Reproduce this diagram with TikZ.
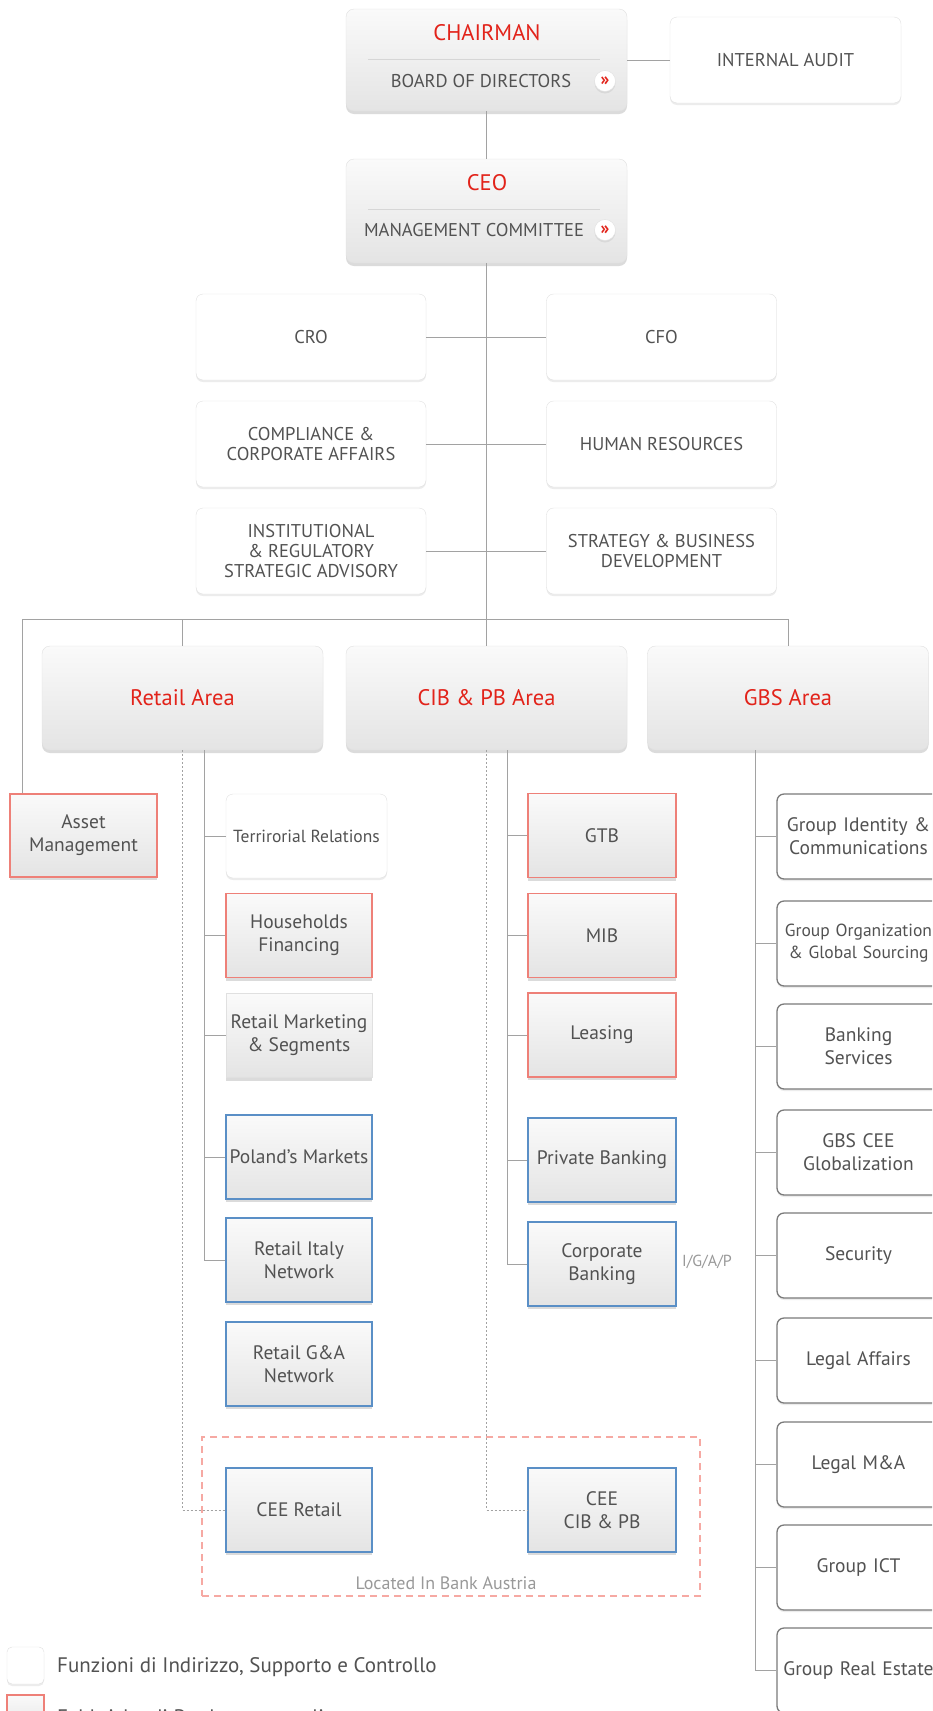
\documentclass[tikz,border=0pt]{standalone}
\usepackage{fontspec}
\setmainfont{PT Sans}
\usetikzlibrary{shadows}
\definecolor{ucred}{HTML}{E2231A}
\definecolor{txt}{HTML}{525252}
\definecolor{lnk}{HTML}{A2A2A2}
\definecolor{redb}{HTML}{EE8078}
\definecolor{blueb}{HTML}{5A8FC6}
\definecolor{gbsb}{HTML}{7A7A7A}
\definecolor{softb}{HTML}{E0E0E0}
\definecolor{dashr}{HTML}{F6A9A3}
\definecolor{gtop}{HTML}{FAFAFA}
\definecolor{gbot}{HTML}{E4E4E4}
\definecolor{sepc}{HTML}{D6D6D6}
\definecolor{lightt}{HTML}{999999}
\begin{document}
\begin{tikzpicture}[x=1pt,y=-1pt,
  orgbox/.style={inner sep=0pt, align=center, text=txt, font=\fontsize{19.5}{23}\selectfont},
  shad/.style={drop shadow={shadow xshift=0pt,shadow yshift=-3pt,opacity=0.25,fill=black!55}},
  lshad/.style={drop shadow={shadow xshift=0pt,shadow yshift=-2pt,opacity=0.12,fill=black!60}},
  headbox/.style={orgbox, rounded corners=8pt, draw=softb, top color=gtop, bottom color=gbot, shad},
  softbox/.style={orgbox, rounded corners=7pt, draw=softb, fill=white, lshad},
  staffbox/.style={softbox, minimum width=230pt, minimum height=86pt, font=\fontsize{18.5}{20}\selectfont},
  areabox/.style={headbox, minimum width=281pt, minimum height=104pt, text=ucred, font=\fontsize{22.5}{26}\selectfont},
  colbox/.style={orgbox, line width=1.5pt, top color=gtop, bottom color=gbot, shad, minimum height=84pt},
  redbox/.style={colbox, draw=redb},
  bluebox/.style={colbox, draw=blueb},
  greybox/.style={colbox, draw=softb, line width=1pt},
  rchild/.style={minimum width=146pt},
  cchild/.style={minimum width=148pt},
  gbsbox/.style={orgbox, rounded corners=7pt, draw=gbsb, line width=1.3pt, fill=white, lshad,
     text width=155pt, inner sep=4pt, minimum height=85pt},
  redtitle/.style={inner sep=0pt, text=ucred, font=\fontsize{22.5}{26}\selectfont},
  captxt/.style={inner sep=0pt, text=txt, font=\fontsize{18.5}{20}\selectfont},
  iconc/.style={circle, draw=softb, fill=white, minimum size=21pt, inner sep=0pt, text=ucred,
     font=\fontsize{18}{18}\selectfont\bfseries, lshad},
  conn/.style={draw=lnk, line width=1pt},
  dotconn/.style={draw=lnk, line width=1pt, dash pattern=on 2pt off 2pt},
  sepline/.style={draw=sepc, line width=0.8pt}
]
\useasboundingbox (0,0) rectangle (932,1711);
\clip (0,0) rectangle (932,1711);
\fill[white] (0,0) rectangle (932,1711);

% top
\node[headbox, minimum width=281pt, minimum height=102pt] (chair) at (486.5,60) {};
\node[softbox, minimum width=231pt, minimum height=86pt, font=\fontsize{18.5}{20}\selectfont] (audit) at (785.5,60) {INTERNAL AUDIT};
\node[headbox, minimum width=281pt, minimum height=104pt] (ceo) at (486.5,211) {};
\draw[sepline] (368,59) -- (600,59);
\draw[sepline] (368,209) -- (600,209);
\node[redtitle] (chairt) at (487,33) {CHAIRMAN};
\node[captxt] (bod) at (481,81) {BOARD OF DIRECTORS};
\node[iconc] (bodi) at (605,81) {»};
\node[redtitle] (ceot) at (487,183) {CEO};
\node[captxt] (mc) at (474,230) {MANAGEMENT COMMITTEE};
\node[iconc] (mci) at (605,230) {»};

% staff
\node[staffbox] (cro) at (311,337) {CRO};
\node[staffbox] (cfo) at (661.5,337) {CFO};
\node[staffbox] (comp) at (311,444) {COMPLIANCE \&\\CORPORATE AFFAIRS};
\node[staffbox] (hr) at (661.5,444) {HUMAN RESOURCES};
\node[staffbox] (inst) at (311,551) {INSTITUTIONAL\\\& REGULATORY\\STRATEGIC ADVISORY};
\node[staffbox] (strat) at (661.5,551) {STRATEGY \& BUSINESS\\DEVELOPMENT};

% areas
\node[areabox] (retail) at (182.5,698) {Retail Area};
\node[areabox] (cib) at (486.5,698) {CIB \& PB Area};
\node[areabox] (gbs) at (788,698) {GBS Area};

\node[redbox, minimum width=147pt, minimum height=83pt] (asset) at (83.5,835.5) {Asset\\Management};

% retail children
\node[softbox, minimum width=161pt, minimum height=84pt, font=\fontsize{17.5}{21}\selectfont] (terr) at (306.5,836) {Terrirorial Relations};
\node[redbox, rchild] (hh) at (299,935.5) {Households\\Financing};
\node[greybox, rchild] (rms) at (299,1035.5) {Retail Marketing\\\& Segments};
\node[bluebox, rchild] (pol) at (299,1157) {Poland's Markets};
\node[bluebox, rchild] (rit) at (299,1260) {Retail Italy\\Network};
\node[bluebox, rchild] (rga) at (299,1364) {Retail G\&A\\Network};
\node[bluebox, rchild] (ceer) at (299,1510) {CEE Retail};

% cib children
\node[redbox, cchild] (gtb) at (602,835.5) {GTB};
\node[redbox, cchild] (mib) at (602,935.5) {MIB};
\node[redbox, cchild] (lea) at (602,1035) {Leasing};
\node[bluebox, cchild] (pb) at (602,1160) {Private Banking};
\node[bluebox, cchild] (cb) at (602,1264) {Corporate\\Banking};
\node[bluebox, cchild] (ceec) at (602,1510) {CEE\\CIB \& PB};
\node[inner sep=0pt, text=lightt, font=\fontsize{16}{18}\selectfont] (igap) at (707,1262) {I/G/A/P};

% gbs children
\node[gbsbox] (gid) at (858.5,836.5) {Group Identity \&\\Communications};
\node[gbsbox, font=\fontsize{17.5}{22}\selectfont] (gorg) at (858.5,943.5) {\mbox{Group Organization}\\\mbox{\& Global Sourcing}};
\node[gbsbox] (bank) at (858.5,1046.5) {Banking\\Services};
\node[gbsbox] (gcee) at (858.5,1152.5) {GBS CEE\\Globalization};
\node[gbsbox] (sec) at (858.5,1255.5) {Security};
\node[gbsbox] (legal) at (858.5,1360.5) {Legal Affairs};
\node[gbsbox] (lma) at (858.5,1464.5) {Legal M\&A};
\node[gbsbox] (ict) at (858.5,1567.5) {Group ICT};
\node[gbsbox] (gre) at (858.5,1670.5) {\mbox{Group Real Estate}};

% located in bank austria
\node[draw=dashr, line width=2pt, dash pattern=on 7pt off 5pt, minimum width=498pt, minimum height=159pt, inner sep=0pt] (bax) at (451,1516.5) {};
\node[inner sep=0pt, text=lightt, font=\fontsize{18}{20}\selectfont] (baxt) at (446,1583) {Located In Bank Austria};

% legend
\node[softbox, minimum width=37pt, minimum height=37pt, rounded corners=5pt] (leg1) at (25.5,1665.5) {};
\node[anchor=west, inner sep=0pt, text=txt, font=\fontsize{21}{24}\selectfont] (leg1t) at (57,1667) {Funzioni di Indirizzo, Supporto e Controllo};
\node[redbox, minimum width=37pt, minimum height=37pt] (leg2) at (25.5,1713.5) {};
\node[anchor=west, inner sep=0pt, text=txt, font=\fontsize{21}{24}\selectfont] (leg2t) at (57,1717) {Fabbriche di Prodotto centralizzate};

% connectors
\coordinate (busL) at (22,619);
\coordinate (busR) at (788,619);
\coordinate (rtr) at (204,751);
\coordinate (ctr) at (507,751);
\coordinate (gtr) at (755,751);

\draw[conn] (chair.east) -- (audit.west);
\draw[conn] (chair.south) -- (ceo.north);
\draw[conn] (ceo.south) -- (cib.north);
\draw[conn] (cro.east) -- (cfo.west);
\draw[conn] (comp.east) -- (hr.west);
\draw[conn] (inst.east) -- (strat.west);
\draw[conn] (asset.north -| busL) -- (busL) -- (busR) -- (gbs.north);
\draw[conn] (retail.north) -- (retail.north |- busL);

\foreach \c in {terr,hh,rms,pol,rit} \draw[conn] (retail.south -| rtr) |- (\c.west);
\foreach \c in {gtb,mib,lea,pb,cb} \draw[conn] (cib.south -| ctr) |- (\c.west);
\foreach \c in {gid,gorg,bank,gcee,sec,legal,lma,ict,gre} \draw[conn] (gbs.south -| gtr) |- (\c.west);

\draw[dotconn] (retail.south) |- (ceer.west);
\draw[dotconn] (cib.south) |- (ceec.west);
\end{tikzpicture}
\end{document}
